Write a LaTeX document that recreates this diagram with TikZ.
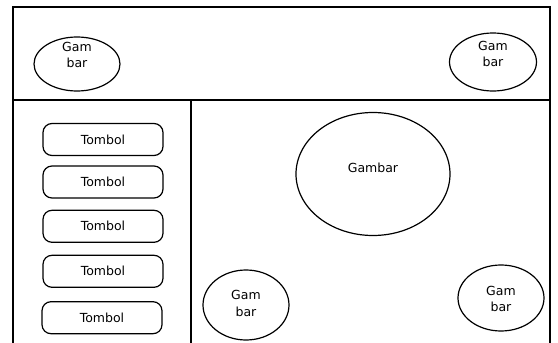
\documentclass[tikz,border=0pt]{standalone}
\usepackage{fontspec}
\setmainfont{DejaVu Sans}
\usetikzlibrary{shapes.geometric}
\tikzset{
  frame/.style={draw=black, line width=1.3pt},
  pic/.style={ellipse, draw=black, line width=1.2pt, inner sep=0pt},
  label2/.style={align=center, inner sep=0pt, font=\fontsize{12.5}{16.5}\selectfont},
  button/.style={draw=black, line width=1.2pt, rounded corners=9pt,
    minimum width=120pt, minimum height=32pt, inner sep=0pt,
    font=\fontsize{12.5}{15}\selectfont},
}
\begin{document}
\begin{tikzpicture}[x=1pt, y=-1pt]
  \useasboundingbox (0,0) rectangle (558,343);
  \clip (0,0) rectangle (558,343);
  % layout frame: header strip, button column, picture area
  \draw[frame] (13,7) rectangle (550,360);
  \draw[frame] (13,100) -- (550,100);
  \draw[frame] (191,100) -- (191,360);
  % header pictures
  \node[pic, minimum width=86pt, minimum height=54pt] (h1) at (77,64) {};
  \node[label2] (h1t) at (77,55) {Gam\\bar};
  \node[pic, minimum width=87pt, minimum height=58pt] (h2) at (493,62) {};
  \node[label2] (h2t) at (493,54) {Gam\\bar};
  % button column
  \node[button] (b1) at (103,139.5) {Tombol};
  \node[button] (b2) at (103,182) {Tombol};
  \node[button] (b3) at (103,226.3) {Tombol};
  \node[button] (b4) at (103,271.3) {Tombol};
  \node[button] (b5) at (102,317.7) {Tombol};
  % main picture area
  \node[pic, minimum width=154pt, minimum height=123pt] (m) at (373,174) {};
  \node[label2] (mt) at (373,168) {Gambar};
  \node[pic, minimum width=86pt, minimum height=70pt] (p1) at (246,305) {};
  \node[label2] (p1t) at (246,303.5) {Gam\\bar};
  \node[pic, minimum width=86pt, minimum height=66pt] (p2) at (501,298) {};
  \node[label2] (p2t) at (501,299) {Gam\\bar};
\end{tikzpicture}
\end{document}
